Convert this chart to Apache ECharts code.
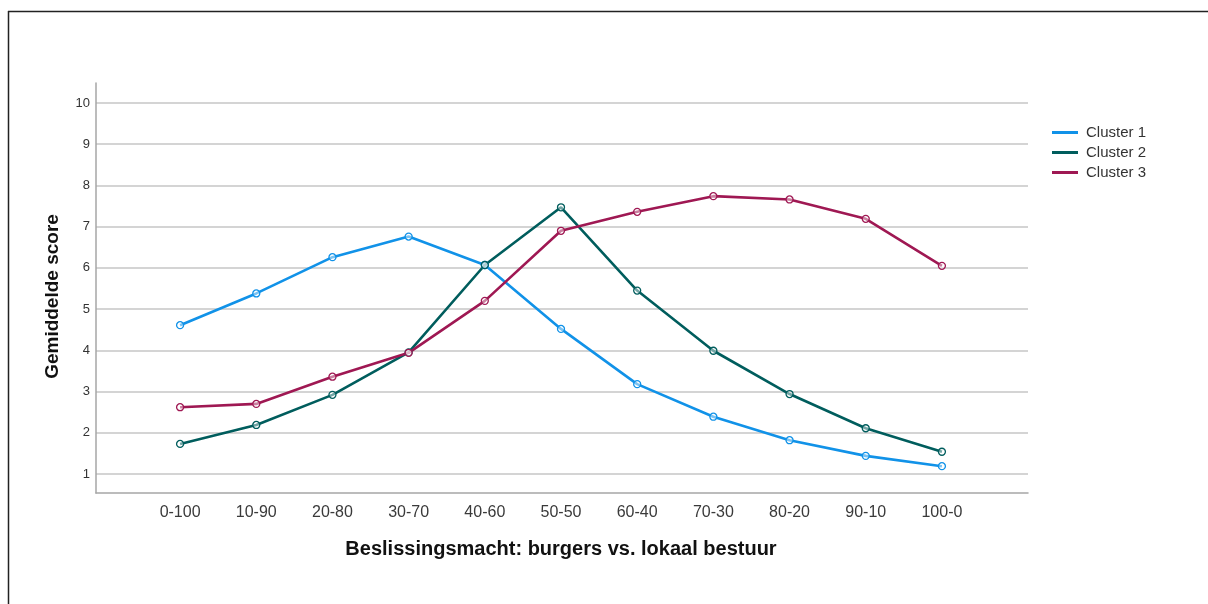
<!DOCTYPE html>
<html>
<head>
<meta charset="utf-8">
<script src="https://cdn.jsdelivr.net/npm/echarts@6/dist/echarts.min.js"></script>
<style>html,body{margin:0;padding:0;background:#fff;}#c{width:1208px;height:604px;}</style>
</head>
<body>
<div id="c"></div>
<script>
var categories = ['0-100','10-90','20-80','30-70','40-60','50-50','60-40','70-30','80-20','90-10','100-0'];
var cluster1 = [4.61, 5.38, 6.26, 6.76, 6.07, 4.52, 3.18, 2.39, 1.82, 1.44, 1.19];
var cluster2 = [1.73, 2.19, 2.92, 3.95, 6.07, 7.47, 5.45, 3.99, 2.94, 2.11, 1.54];
var cluster3 = [2.62, 2.70, 3.36, 3.94, 5.20, 6.90, 7.36, 7.74, 7.66, 7.19, 6.05];
var seriesNames = ['Cluster 1','Cluster 2','Cluster 3'];
var colors = ['#1192e8','#005d5d','#9f1853'];
var yTicks = {min: 1, max: 10, interval: 1};

var font = '"Liberation Sans", Arial, sans-serif';
var chart = echarts.init(document.getElementById('c'));

function mkSeries(name, data, color) {
  return {
    name: name, type: 'line', xAxisIndex: 2, yAxisIndex: 2, data: data,
    symbol: 'circle', symbolSize: 7, showSymbol: true,
    lineStyle: {color: color, width: 2.6},
    itemStyle: {color: 'rgba(255,255,255,0.45)', borderColor: color, borderWidth: 1.3},
    emphasis: {disabled: true}, z: 5
  };
}

chart.setOption({
  animation: false,
  backgroundColor: '#fff',
  textStyle: {fontFamily: font},
  graphic: [
    {type: 'line', shape: {x1: 8, y1: 11.5, x2: 1208, y2: 11.5}, style: {stroke: '#222', lineWidth: 1.5}, silent: true},
    {type: 'line', shape: {x1: 8.5, y1: 11, x2: 8.5, y2: 604}, style: {stroke: '#222', lineWidth: 1.5}, silent: true}
  ],
  legend: {
    orient: 'vertical', left: 1047, top: 120, itemWidth: 26, itemHeight: 3, itemGap: 5,
    icon: 'rect',
    textStyle: {fontSize: 15, color: '#333', fontFamily: font, padding: [0,0,0,3]},
    data: seriesNames.map(function(n, i){ return {name: n, itemStyle: {color: colors[i], borderWidth: 0}}; })
  },
  grid: [
    {left: 96, right: 180, top: 83, bottom: 111},
    {left: 96, right: 180, top: 103, bottom: 130},
    {left: 142, right: 228, top: 103, bottom: 130}
  ],
  xAxis: [
    {gridIndex: 0, type: 'value', min: 0, max: 1, axisLine: {show: true, onZero: false, lineStyle: {color: '#a6a6a6', width: 1.5}}, axisTick: {show: false}, axisLabel: {show: false}, splitLine: {show: false}},
    {gridIndex: 1, type: 'value', min: 0, max: 1, show: false},
    {gridIndex: 2, type: 'category', data: categories, boundaryGap: true,
     axisLine: {show: false}, axisTick: {show: false},
     axisLabel: {fontSize: 16, color: '#3a3a3a', margin: 31, fontFamily: font},
     name: 'Beslissingsmacht: burgers vs. lokaal bestuur', nameLocation: 'middle', nameGap: 65,
     nameTextStyle: {fontSize: 20, fontWeight: 'bold', color: '#111', fontFamily: font}}
  ],
  yAxis: [
    {gridIndex: 0, type: 'value', min: 0, max: 1, axisLine: {show: true, onZero: false, lineStyle: {color: '#a6a6a6', width: 1.5}}, axisTick: {show: false}, axisLabel: {show: false}, splitLine: {show: false}},
    {gridIndex: 1, type: 'value', min: yTicks.min, max: yTicks.max, interval: yTicks.interval,
     axisLine: {show: false}, axisTick: {show: false},
     axisLabel: {fontSize: 13, color: '#333', margin: 6, fontFamily: font},
     splitLine: {show: true, lineStyle: {color: '#d4d4d4', width: 2}},
     name: 'Gemiddelde score', nameLocation: 'middle', nameGap: 34,
     nameTextStyle: {fontSize: 19, fontWeight: 'bold', color: '#111', fontFamily: font, padding: [0,16,0,0]}},
    {gridIndex: 2, type: 'value', min: yTicks.min, max: yTicks.max, show: false}
  ],
  series: [
    mkSeries(seriesNames[0], cluster1, colors[0]),
    mkSeries(seriesNames[1], cluster2, colors[1]),
    mkSeries(seriesNames[2], cluster3, colors[2])
  ]
});
</script>
</body>
</html>
